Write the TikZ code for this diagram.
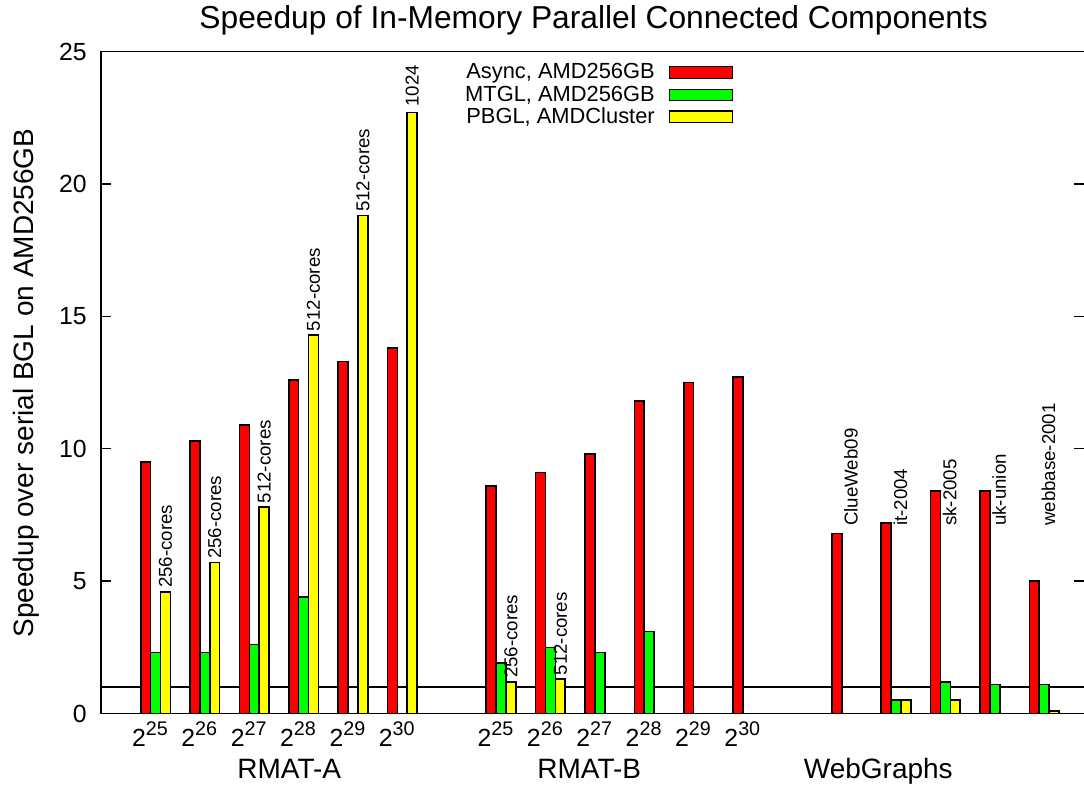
\documentclass[tikz,border=0pt]{standalone}
\usepackage{fontspec}
\setmainfont{Liberation Sans}
\definecolor{barred}{RGB}{255,0,0}
\definecolor{bargreen}{RGB}{0,255,0}
\definecolor{baryellow}{RGB}{255,255,0}
\begin{document}
\begin{tikzpicture}[x=0.75pt,y=-0.75pt,
  frame/.style={line width=1.1pt,black},
  refline/.style={line width=0.9pt,black},
  bar/.style={line width=1.2pt,draw=black},
  ticklbl/.style={inner sep=0pt,font=\fontsize{18.6}{20}\selectfont},
  axislbl/.style={inner sep=0pt,font=\fontsize{21}{24}\selectfont},
  barlbl/.style={inner sep=0pt,rotate=90,anchor=west,font=\fontsize{14}{16}\selectfont},
  keylbl/.style={inner sep=0pt,anchor=base east,font=\fontsize{16.4}{18}\selectfont},
  keybox/.style={line width=1.1pt,draw=black}]
\useasboundingbox (0,0) rectangle (1084,786);
\clip (0,0) rectangle (1084,786);
% plot geometry (pixels): baseline, pixels per unit, first slot, slot pitch, bar width
\def\yb{713.5}
\def\yu{26.48}
\def\xz{140.7}
\def\dx{49.37}
\def\bw{9.87}

% reference line at speedup 1
\draw[refline] (101,{\yb-\yu}) -- (1090,{\yb-\yu});

% Async bars
\foreach \k/\v in {0/9.5,1/10.3,2/10.9,3/12.6,4/13.3,5/13.8,7/8.6,8/9.1,9/9.8,10/11.8,11/12.5,12/12.7,14/6.8,15/7.2,16/8.4,17/8.4,18/5.0}{
  \pgfmathsetmacro\xl{\xz+\dx*\k}
  \filldraw[bar,fill=barred] (\xl,\yb) rectangle ({\xl+\bw},{\yb-\yu*\v});
}
% MTGL bars
\foreach \k/\v in {0/2.3,1/2.3,2/2.6,3/4.4,7/1.9,8/2.5,9/2.3,10/3.1,15/0.5,16/1.2,17/1.1,18/1.1}{
  \pgfmathsetmacro\xl{\xz+\dx*\k+\bw}
  \filldraw[bar,fill=bargreen] (\xl,\yb) rectangle ({\xl+\bw},{\yb-\yu*\v});
}
% empty MTGL entries
\foreach \k in {4,5,11,12}{
  \pgfmathsetmacro\xl{\xz+\dx*\k+\bw}
  \draw[bar] (\xl,\yb) -- (\xl,{\yb-10.5});
}
% PBGL bars
\foreach \k/\v in {0/4.6,1/5.7,2/7.8,3/14.3,4/18.8,5/22.7,7/1.2,8/1.3,15/0.5,16/0.5,18/0.1}{
  \pgfmathsetmacro\xl{\xz+\dx*\k+2*\bw}
  \filldraw[bar,fill=baryellow] (\xl,\yb) rectangle ({\xl+\bw},{\yb-\yu*\v});
}

% core-count labels above PBGL bars
\foreach \k/\v/\off/\t in {0/4.6/3.5/256-cores,1/5.7/3.5/256-cores,2/7.8/3.5/512-cores,3/14.3/3.5/512-cores,4/18.8/3.5/512-cores,5/22.7/5.5/1024,7/1.2/3.5/256-cores,8/1.3/3.5/512-cores}{
  \pgfmathsetmacro\xc{\xz+\dx*\k+2.5*\bw}
  \node[barlbl] (cores\k) at (\xc,{\yb-\yu*\v-\off}) {\t};
}
% graph names
\foreach \k/\t in {14/ClueWeb09,15/it-2004,16/sk-2005,17/uk-union,18/webbase-2001}{
  \pgfmathsetmacro\xc{\xz+\dx*\k+19.1}
  \node[barlbl] (name\k) at (\xc,526) {\t};
}

% frame
\draw[frame] (1090,51.5) -- (101,51.5) -- (101,\yb) -- (1090,\yb);
% y ticks and labels
\foreach \v in {0,5,10,15,20,25}{
  \draw[frame] (101,{\yb-\yu*\v}) -- (111,{\yb-\yu*\v});
  \draw[frame] (1074,{\yb-\yu*\v}) -- (1084,{\yb-\yu*\v});
  \node[ticklbl,anchor=east] (yt\v) at (87,{\yb-\yu*\v}) {\v};
}
% x tick labels
\foreach \k/\e in {0/25,1/26,2/27,3/28,4/29,5/30,7/25,8/26,9/27,10/28,11/29,12/30}{
  \pgfmathsetmacro\xc{\xz+\dx*\k+9.2}
  \node[ticklbl,anchor=base] (xt\k) at (\xc,746.7) {2\raisebox{8.5pt}{\fontsize{14.8}{16}\selectfont\e}};
}
% group labels
\node[axislbl,anchor=base] (grpA) at (289.3,778.3) {RMAT-A};
\node[axislbl,anchor=base] (grpB) at (589.3,778) {RMAT-B};
\node[axislbl,anchor=base] (grpW) at (878.3,778.3) {WebGraphs};
% y axis label
\node[axislbl,rotate=90,anchor=base] (ylab) at (33,383) {Speedup over serial BGL on AMD256GB};
% title
\node[inner sep=0pt,anchor=base,font=\fontsize{23.8}{26}\selectfont] (title) at (593.7,28) {Speedup of In-Memory Parallel Connected Components};

% key
\node[keylbl] (k1) at (655,78.3) {Async, AMD256GB};
\node[keylbl] (k2) at (655,101) {MTGL, AMD256GB};
\node[keylbl] (k3) at (655,123.5) {PBGL, AMDCluster};
\filldraw[keybox,fill=barred] (669.3,66.7) rectangle (732.7,78.3);
\filldraw[keybox,fill=bargreen] (669.3,89.3) rectangle (732.7,100.7);
\filldraw[keybox,fill=baryellow] (669.3,111) rectangle (732.7,122.3);
\end{tikzpicture}
\end{document}
